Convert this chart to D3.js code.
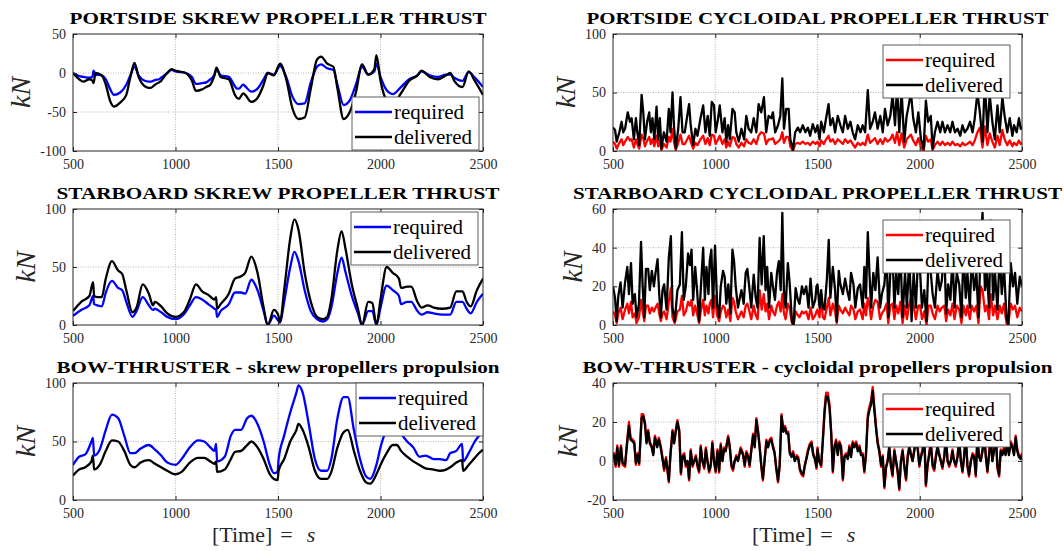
<!DOCTYPE html>
<html>
<head>
<meta charset="utf-8">
<script src="https://cdn.jsdelivr.net/npm/d3@7"></script>
<style>
  body { margin: 0; background: #fff; }
  svg text { font-family: "Liberation Serif", "Times New Roman", serif; }
</style>
</head>
<body>
<svg id="chart" width="1064" height="551"></svg>
<script>
// common time axis (s)
const xDomain = [500, 2500];
const xTicks = [500, 1000, 1500, 2000, 2500];
const seriesNames = ["required", "delivered"];

// PORTSIDE SKREW PROPELLER THRUST
const portScrewTime = [500,530,550,580,595,600,610,640,660,680,700,730,760,780,800,820,850,870,880,900,920,930,950,960,980,1000,1050,1080,1100,1130,1150,1170,1180,1190,1200,1220,1260,1290,1300,1310,1330,1340,1370,1400,1430,1450,1480,1510,1540,1570,1600,1630,1660,1690,1710,1740,1770,1790,1820,1850,1880,1910,1940,1970,1980,2000,2030,2060,2100,2140,2180,2200,2240,2280,2320,2340,2360,2400,2430,2460,2500];
const portScrewRequired = [0,-4,-5,-6,-5,3,-2,-3,-8,-20,-28,-25,-15,-3,8,-3,-10,-11,-11,-9,-8,-6,-2,0,4,2,0,-5,-14,-13,-12,-8,-6,-2,5,-3,-5,-17,-20,-20,-15,-17,-24,-20,-8,0,-2,9,-5,-30,-40,-39,-12,8,11,6,4,-15,-41,-35,-15,8,-2,2,12,-5,-22,-27,-18,-8,-3,2,-3,-5,-2,-2,-6,-10,1,-6,-18];
const portScrewDelivered = [0,-8,-11,-8,-10,-13,0,-3,-15,-35,-43,-38,-28,-5,13,-5,-17,-19,-19,-15,-12,-10,-3,0,5,3,0,-10,-23,-21,-18,-15,-10,-3,7,-5,-8,-28,-32,-33,-26,-28,-37,-32,-15,0,-3,12,-8,-45,-59,-57,-20,17,21,12,8,-20,-59,-50,-25,11,-2,5,23,-10,-35,-40,-26,-10,-3,3,-5,-8,-3,0,-10,-18,2,-10,-28];

// PORTSIDE CYCLOIDAL PROPELLER THRUST
const portCycTime = [500,510,518,531,542,550,559,572,583,591,602,612,619,628,640,648,656,667,677,685,693,702,713,721,729,737,749,762,773,781,791,798,807,819,830,840,851,863,872,880,892,903,913,928,941,952,963,973,983,994,1002,1014,1022,1035,1046,1054,1063,1071,1084,1095,1103,1115,1128,1141,1152,1163,1176,1188,1201,1212,1225,1238,1249,1261,1274,1282,1293,1307,1318,1328,1336,1347,1359,1367,1380,1391,1404,1415,1428,1441,1453,1464,1477,1490,1500,
  1510,1518,1531,1542,1554,1563,1575,1586,1599,1612,1624,1635,1648,1661,1672,1684,1697,1710,1721,1733,1746,1757,1770,1781,1794,1807,1819,1830,1843,1856,1867,1879,1889,1900,1911,1924,1936,1946,1957,1968,1981,1993,2006,2019,2030,2041,2054,2063,2074,2087,2100,2111,2123,2136,2149,2160,2172,2185,2198,2209,2220,2233,2246,2258,2269,2282,2294,2307,2318,2331,2342,2355,2367,2380,2391,2404,2415,2428,2440,2453,2461,2474,2485,2494,2500];
const portCycRequired = [8,6,2,7,10,5,8,12,9,10,3,10,6,2,14,11,4,9,12,6,10,4,13,4,9,1,6,3,12,8,19,8,1,7,14,6,6,10,13,8,2,7,5,10,13,6,11,5,14,13,6,10,13,6,10,3,8,4,12,11,6,3,7,4,10,7,6,10,6,13,16,15,6,10,10,11,6,8,10,16,7,12,12,4,0,6,7,6,8,6,7,5,8,6,8,
  4,9,6,10,13,8,10,6,10,8,6,10,7,9,6,3,7,5,7,5,14,7,9,11,6,10,6,11,8,10,14,7,16,5,15,3,10,12,14,9,5,11,3,0,13,8,10,1,5,8,5,8,5,7,5,8,5,6,4,7,5,6,8,5,9,16,20,3,21,5,15,8,3,13,5,18,10,5,9,4,7,5,9,6,7];
const portCycDelivered = [20,18,8,16,25,16,19,33,25,28,10,28,16,5,48,33,10,25,33,16,28,10,38,10,28,2,16,8,36,16,50,22,2,19,46,16,16,30,40,22,5,19,13,28,39,16,30,13,42,39,16,28,39,16,28,8,22,10,36,33,16,8,19,10,30,19,16,28,16,40,33,46,16,30,28,33,16,22,30,62,19,36,36,10,1,16,20,16,22,16,20,13,23,16,22,
  10,25,16,28,40,22,28,16,30,22,16,30,19,25,16,10,22,16,22,16,52,19,25,33,19,30,16,36,22,30,48,22,55,16,52,8,30,39,50,28,16,33,10,2,43,25,30,2,16,25,16,25,16,22,16,25,16,19,13,22,16,19,25,16,28,50,33,8,60,16,48,25,10,39,16,46,30,16,28,13,22,16,28,19,21];

// STARBOARD SKREW PROPELLER THRUST
const starScrewTime = [500,540,580,598,603,620,640,660,690,720,740,760,790,810,840,870,890,900,930,960,1000,1040,1070,1100,1130,1160,1190,1198,1203,1220,1260,1290,1320,1340,1370,1400,1430,1450,1480,1500,1510,1530,1560,1580,1600,1630,1660,1690,1720,1740,1760,1790,1810,1830,1860,1890,1910,1940,1960,1980,2000,2030,2060,2090,2100,2130,2150,2180,2200,2230,2260,2300,2340,2370,2400,2420,2440,2470,2500];
const starScrewRequired = [8,13,17,25,18,17,16,28,38,32,30,20,7,12,24,17,13,14,11,7,5,9,17,24,22,18,14,13,7,12,18,28,28,27,39,30,12,0,8,4,2,20,50,63,55,30,12,5,3,5,15,45,58,45,25,10,0,12,12,0,15,34,30,25,18,20,20,12,9,11,10,9,9,20,20,14,10,20,27];
const starScrewDelivered = [12,20,25,37,25,24,24,40,55,47,44,30,11,15,35,27,17,20,16,10,7,11,22,35,29,26,22,24,14,18,27,40,42,45,59,45,15,0,13,9,3,30,75,91,82,45,20,7,5,7,22,65,81,65,35,14,0,20,19,0,22,50,45,40,32,33,33,20,15,17,15,14,15,29,29,20,16,30,40];

// STARBOARD CYCLOIDAL PROPELLER THRUST
const starCycTime = [500,510,518,526,537,547,559,570,578,588,596,607,615,627,637,645,653,661,672,680,690,700,708,718,726,734,742,750,762,773,783,791,802,815,827,837,846,856,867,876,884,892,902,911,921,929,941,949,957,967,973,981,989,999,1009,1019,1027,1038,1046,1054,1064,1074,1084,1092,1100,1111,1120,1128,1139,1149,1157,1165,1176,1188,1198,1207,1217,1227,1237,1246,1254,1263,1274,1282,1292,1302,1311,1320,1328,1336,1344,1355,1363,1375,1383,1393,1404,1412,1424,1433,1445,1456,1466,1477,1489,1495,1500,
  1510,1518,1526,1534,1546,1555,1563,1575,1586,1594,1604,1612,1624,1635,1645,1656,1664,1676,1685,1697,1708,1721,1729,1737,1746,1754,1762,1773,1783,1794,1806,1815,1827,1838,1846,1856,1867,1876,1885,1895,1905,1916,1928,1937,1949,1960,1970,1981,1993,2002,2011,2022,2033,2043,2054,2063,2074,2087,2098,2108,2120,2129,2139,2150,2160,2170,2181,2193,2204,2214,2225,2233,2245,2254,2266,2277,2287,2298,2307,2319,2328,2339,2347,2359,2368,2380,2391,2401,2412,2424,2433,2445,2456,2466,2477,2489,2500];
const starCycRequired = [7,5,1,6,9,3,8,11,6,12,4,6,1,4,13,7,2,10,10,6,9,7,9,11,6,2,6,7,3,12,19,4,1,7,8,15,5,7,12,10,13,5,10,6,1,7,13,5,10,6,11,13,4,15,5,2,7,10,9,4,8,2,14,12,7,3,5,7,4,10,11,8,3,10,5,3,18,8,16,7,11,3,10,7,5,10,12,7,16,6,3,11,9,1,0,7,5,4,7,6,7,3,9,3,5,7,8,
  4,16,4,3,9,14,5,11,7,1,10,8,6,9,7,5,10,8,3,7,8,3,11,5,14,10,3,10,13,12,3,6,8,11,1,10,11,3,10,6,12,1,10,3,11,15,10,3,10,10,3,7,0,10,10,6,3,10,7,9,10,2,8,5,11,3,10,8,1,10,5,10,3,10,7,10,1,20,18,7,10,3,16,5,10,3,10,6,11,1,0,11,8,10,4,9,7];
const starCycDelivered = [20,14,2,15,22,9,22,30,16,32,11,16,4,11,43,20,4,29,29,18,28,20,27,34,16,4,18,21,8,35,46,9,2,18,21,48,13,20,37,31,39,13,30,18,2,18,40,13,30,16,33,39,9,41,11,4,20,28,25,11,21,6,39,33,20,9,14,18,11,27,29,21,9,26,14,9,45,21,46,18,30,9,27,20,13,27,33,18,58,16,9,32,23,2,0,19,13,11,20,16,20,9,24,9,13,20,21,
  9,18,9,8,24,44,14,30,18,2,28,21,16,24,18,13,27,21,9,19,21,9,30,14,48,27,9,27,18,35,9,16,21,38,4,27,36,9,27,16,40,4,27,9,35,2,27,9,38,27,9,18,2,35,27,16,9,28,18,23,40,6,21,13,36,9,27,21,4,38,14,27,9,35,18,27,4,40,58,18,27,9,54,13,27,8,38,16,30,4,0,32,20,27,11,25,20];

// BOW-THRUSTER - skrew propellers propulsion
const bowScrewTime = [500,530,560,590,597,603,630,660,690,720,750,780,800,830,870,900,930,960,1000,1030,1070,1110,1140,1170,1190,1198,1203,1240,1270,1290,1320,1350,1370,1400,1430,1460,1480,1498,1503,1530,1560,1590,1600,1620,1650,1680,1710,1740,1760,1790,1820,1840,1870,1900,1930,1950,1980,2000,2030,2060,2080,2100,2130,2160,2190,2220,2260,2290,2320,2340,2370,2398,2403,2430,2460,2480,2500];
const bowScrewRequired = [30,37,39,50,53,38,43,60,73,70,55,40,40,44,47,43,38,32,30,35,45,51,50,45,42,48,33,37,55,60,60,70,72,65,50,30,23,24,35,55,75,92,98,92,65,35,25,25,35,70,88,88,60,35,20,18,30,45,60,65,63,57,50,45,37,38,35,35,34,40,42,48,33,40,50,55,62];
const bowScrewDelivered = [21,26,28,33,38,26,30,42,51,50,42,30,28,32,34,31,28,25,22,24,32,36,36,33,31,33,24,26,35,41,42,47,50,45,35,22,18,17,25,35,50,60,65,60,45,25,18,18,24,45,58,60,42,25,15,14,22,30,40,47,47,42,37,33,30,27,26,25,26,28,32,34,25,30,36,40,43];

// BOW-THRUSTER - cycloidal propellers propulsion
const bowCycTime = [500,505,513,521,529,539,547,559,567,578,586,596,604,612,620,628,640,648,656,664,672,680,689,697,705,716,724,733,742,750,759,765,773,781,791,799,807,815,824,832,840,848,856,864,872,880,889,897,905,913,921,929,937,946,954,962,970,978,986,994,1002,1011,1019,1027,1035,1043,1051,1063,1071,1079,1087,1095,1103,1111,1124,1136,1144,1152,1160,1168,1176,1185,1193,1201,1209,1217,1225,1233,1241,1250,1258,1266,1274,1282,1290,1298,1307,1315,1324,1333,1341,1349,1357,1364,1373,1381,1389,1398,1406,1414,1422,1430,1438,1446,1454,1463,1471,1479,1487,1495,1500,
  1508,1518,1526,1534,1542,1550,1559,1567,1575,1583,1591,1599,1607,1615,1624,1632,1640,1648,1656,1664,1672,1680,1689,1697,1705,1713,1721,1729,1737,1746,1754,1762,1770,1778,1786,1794,1802,1811,1819,1827,1835,1843,1851,1859,1867,1876,1884,1892,1900,1908,1916,1924,1933,1941,1949,1957,1965,1973,1981,1989,1998,2006,2014,2022,2030,2038,2046,2054,2063,2071,2079,2087,2095,2103,2111,2120,2128,2136,2144,2152,2160,2168,2176,2185,2193,2201,2209,2217,2225,2233,2241,2250,2258,2266,2274,2282,2290,2298,2307,2315,2323,2331,2339,2347,2355,2363,2371,2380,2388,2396,2404,2412,2420,2428,2436,2445,2453,2461,2469,2477,2485,2493,2500];
const bowCycRequired = [2,4,-3,8,-3,8,-2,-3,8,20,12,11,10,-2,4,-2,24,24,20,10,16,10,8,4,13,8,12,8,2,-5,2,-4,-11,4,16,10,16,21,16,-7,3,4,-3,0,-10,6,-3,0,3,-3,-6,8,0,-4,7,0,-6,-3,10,0,-6,6,-6,9,0,7,6,13,8,-3,-5,0,3,0,7,4,-3,5,3,-3,6,14,8,22,16,8,-3,-10,0,11,8,11,12,8,5,-4,-11,-3,24,16,18,15,15,5,3,5,0,3,2,-5,-7,-8,-3,2,6,9,10,4,2,-4,7,
  0,-3,11,26,35,35,29,15,-6,8,11,4,10,8,-10,3,4,2,8,3,10,8,10,6,8,4,4,-6,4,24,28,31,38,28,18,10,6,-3,3,-14,-4,0,8,-3,-8,6,0,-6,-15,0,6,-3,-10,3,8,4,0,6,11,8,-3,3,6,15,-13,-3,4,10,-3,-5,3,8,4,0,-4,3,13,0,-3,0,6,0,-3,3,12,0,-6,3,14,-3,-8,0,4,3,-8,13,3,0,6,15,3,-6,4,13,0,6,16,-4,-8,6,4,7,4,11,4,10,8,4,13,6,3,2,4];
const bowCycDelivered = [1,3,-2,7,-2,7,-1,-2,7,18,11,10,9,-1,3,-1,22,23,19,9,15,9,7,3,12,7,11,7,1,-4,1,-3,-10,3,15,9,15,20,15,-6,2,3,-2,0,-9,5,-2,0,2,-2,-5,7,0,-3,6,0,-5,-2,9,0,-5,5,-5,8,0,6,5,12,7,-2,-4,0,2,0,6,3,-2,4,2,-2,5,13,7,21,15,7,-2,-9,0,10,7,10,11,7,4,-3,-10,-2,23,15,17,14,14,4,2,4,0,2,1,-4,-6,-7,-2,1,5,8,9,3,1,-3,6,
  0,-2,10,24,33,33,27,14,-5,7,10,3,9,7,-9,2,3,1,7,2,9,7,9,5,7,3,3,-5,3,22,26,29,36,26,17,9,5,-2,2,-13,-3,0,7,-2,-7,5,0,-5,-14,0,5,-2,-9,2,7,3,0,5,10,7,-2,2,5,14,-12,-2,3,9,-2,-4,2,7,3,0,-3,2,12,0,-2,0,5,0,-2,2,11,0,-5,2,13,-2,-7,0,3,2,-7,12,2,0,5,14,2,-5,3,12,0,5,15,-3,-7,5,3,6,3,10,3,9,7,3,12,5,2,1,3];

const panels = [
  {title: "PORTSIDE SKREW PROPELLER THRUST", time: portScrewTime, required: portScrewRequired, delivered: portScrewDelivered,
   requiredColor: "#0000ff", yDomain: [-100, 50], yTicks: [-100, -50, 0, 50], smooth: true},
  {title: "PORTSIDE CYCLOIDAL PROPELLER THRUST", time: portCycTime, required: portCycRequired, delivered: portCycDelivered,
   requiredColor: "#ff0000", yDomain: [0, 100], yTicks: [0, 50, 100], smooth: false},
  {title: "STARBOARD SKREW PROPELLER THRUST", time: starScrewTime, required: starScrewRequired, delivered: starScrewDelivered,
   requiredColor: "#0000ff", yDomain: [0, 100], yTicks: [0, 50, 100], smooth: true},
  {title: "STARBOARD CYCLOIDAL PROPELLER THRUST", time: starCycTime, required: starCycRequired, delivered: starCycDelivered,
   requiredColor: "#ff0000", yDomain: [0, 60], yTicks: [0, 20, 40, 60], smooth: false},
  {title: "BOW-THRUSTER - skrew propellers propulsion", time: bowScrewTime, required: bowScrewRequired, delivered: bowScrewDelivered,
   requiredColor: "#0000ff", yDomain: [0, 100], yTicks: [0, 50, 100], smooth: true},
  {title: "BOW-THRUSTER - cycloidal propellers propulsion", time: bowCycTime, required: bowCycRequired, delivered: bowCycDelivered,
   requiredColor: "#ff0000", yDomain: [-20, 40], yTicks: [-20, 0, 20, 40], smooth: false}
];

// page layout (pixels)
const colX = [[73, 483], [613, 1022]];
const rowY = [[34, 151], [209, 325], [383, 500]];
const layout = [
  {col: 0, row: 0, titleWidth: 417, legendX: 352, legendY: 97},
  {col: 1, row: 0, titleWidth: 462, legendX: 883, legendY: 45},
  {col: 0, row: 1, titleWidth: 443, legendX: 351, legendY: 212},
  {col: 1, row: 1, titleWidth: 489, legendX: 883, legendY: 220},
  {col: 0, row: 2, titleWidth: 443, legendX: 356, legendY: 383},
  {col: 1, row: 2, titleWidth: 470, legendX: 883, legendY: 394}
];
const ink = "#262626";

const svg = d3.select("#chart");

panels.forEach((p, i) => {
  const L = layout[i];
  const [x0, x1] = colX[L.col];
  const [y0, y1] = rowY[L.row];

  const x = d3.scaleLinear().domain(xDomain).range([x0, x1]);
  const y = d3.scaleLinear().domain(p.yDomain).range([y1, y0]);

  const g = svg.append("g").attr("class", "panel");

  // grid
  g.selectAll(".vgrid").data(xTicks.slice(1, -1)).join("line")
    .attr("x1", d => x(d)).attr("x2", d => x(d))
    .attr("y1", y0).attr("y2", y1)
    .attr("stroke", "#9a9a9a").attr("stroke-width", 0.7)
    .attr("stroke-dasharray", "1,1.5");
  g.selectAll(".hgrid").data(p.yTicks.slice(1, -1)).join("line")
    .attr("x1", x0).attr("x2", x1)
    .attr("y1", d => y(d)).attr("y2", d => y(d))
    .attr("stroke", "#9a9a9a").attr("stroke-width", 0.7)
    .attr("stroke-dasharray", "1,1.5");

  // clip
  const clipId = "clip" + i;
  svg.append("clipPath").attr("id", clipId)
    .append("rect").attr("x", x0).attr("y", y0)
    .attr("width", x1 - x0).attr("height", y1 - y0);

  const line = d3.line()
    .x((d, k) => x(p.time[k]))
    .y(d => y(d))
    .curve(p.smooth ? d3.curveMonotoneX : d3.curveLinear);

  const lines = g.append("g").attr("clip-path", `url(#${clipId})`);
  lines.append("path").datum(p.required)
    .attr("d", line).attr("fill", "none")
    .attr("stroke", p.requiredColor).attr("stroke-width", 2.3)
    .attr("stroke-linejoin", "round");
  lines.append("path").datum(p.delivered)
    .attr("d", line).attr("fill", "none")
    .attr("stroke", "#000").attr("stroke-width", 2.3)
    .attr("stroke-linejoin", "round");

  // axes
  const fmt = d => String(d);
  g.append("g").attr("transform", `translate(0,${y1})`)
    .call(d3.axisBottom(x).tickValues(xTicks).tickSize(-4).tickSizeOuter(0).tickPadding(8).tickFormat(fmt));
  const yAxis = g.append("g").attr("transform", `translate(${x0},0)`)
    .call(d3.axisLeft(y).tickValues(p.yTicks).tickSize(-4).tickSizeOuter(0).tickPadding(7).tickFormat(fmt));
  g.append("g").attr("transform", `translate(0,${y0})`)
    .call(d3.axisTop(x).tickValues(xTicks).tickSize(-4).tickSizeOuter(0).tickFormat(""));
  g.append("g").attr("transform", `translate(${x1},0)`)
    .call(d3.axisRight(y).tickValues(p.yTicks).tickSize(-4).tickSizeOuter(0).tickFormat(""));

  g.selectAll(".domain").remove();
  g.selectAll(".tick line").attr("stroke", ink);
  g.selectAll(".tick text")
    .attr("fill", ink)
    .attr("font-family", '"Liberation Serif", "Times New Roman", serif')
    .attr("font-size", 14);

  g.append("rect")
    .attr("x", x0).attr("y", y0)
    .attr("width", x1 - x0).attr("height", y1 - y0)
    .attr("fill", "none").attr("stroke", ink).attr("stroke-width", 1);

  // y label
  let maxW = 0;
  yAxis.selectAll(".tick text").each(function () {
    maxW = Math.max(maxW, this.getBBox().width);
  });
  const labX = x0 - 7 - maxW - 10;
  const labY = (y0 + y1) / 2;
  g.append("text")
    .attr("transform", `translate(${labX},${labY}) rotate(-90)`)
    .attr("text-anchor", "middle")
    .attr("font-style", "italic")
    .attr("font-size", 28)
    .attr("fill", ink)
    .text("kN");

  // title
  g.append("text")
    .attr("x", (x0 + x1) / 2).attr("y", y0 - 10)
    .attr("text-anchor", "middle")
    .attr("font-weight", "bold")
    .attr("font-size", 17)
    .attr("fill", "#000")
    .attr("textLength", L.titleWidth)
    .attr("lengthAdjust", "spacingAndGlyphs")
    .text(p.title);

  // legend
  const lg = g.append("g").attr("transform", `translate(${L.legendX},${L.legendY})`);
  lg.append("rect").attr("width", 127).attr("height", 53)
    .attr("fill", "#fff").attr("stroke", "#4d4d4d").attr("stroke-width", 0.9);
  const colors = [p.requiredColor, "#000"];
  seriesNames.forEach((name, k) => {
    const ry = 15 + k * 25;
    lg.append("line").attr("x1", 3).attr("x2", 40)
      .attr("y1", ry).attr("y2", ry)
      .attr("stroke", colors[k]).attr("stroke-width", 2.3);
    lg.append("text").attr("x", 42).attr("y", ry + 7)
      .attr("font-size", 21).attr("fill", "#000")
      .text(name);
  });

  // x label on bottom row
  if (L.row === 2) {
    const t = g.append("text")
      .attr("x", x0 + 139).attr("y", 542)
      .attr("font-size", 22).attr("fill", ink);
    t.append("tspan").text("[Time]");
    t.append("tspan").attr("dx", 8).text("=");
    t.append("tspan").attr("dx", 14).attr("font-style", "italic").text("s");
  }
});
</script>
</body>
</html>
